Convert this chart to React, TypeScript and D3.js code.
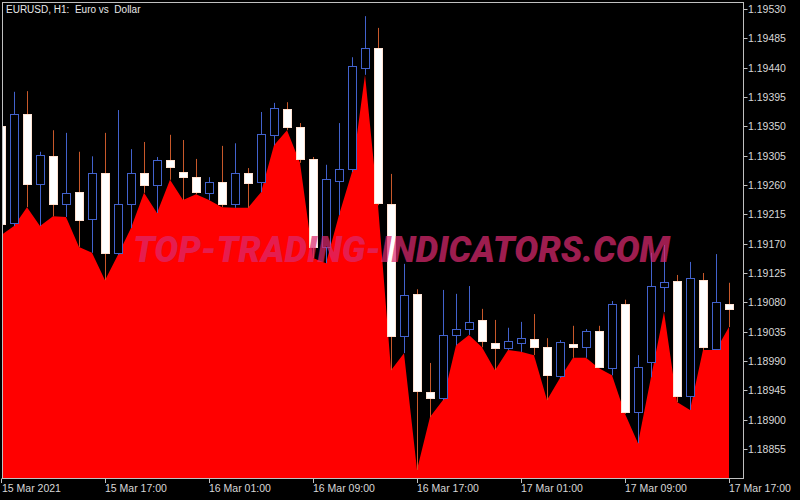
import { useEffect, useRef } from "react";
import * as d3 from "d3";

// EURUSD H1 bars
const opens = [
  1.1935, 1.19202, 1.19369, 1.19261, 1.19304, 1.19231, 1.19249, 1.19208, 1.19278, 1.19156,
  1.19231, 1.19278, 1.1926, 1.19298, 1.1928, 1.19272, 1.19248, 1.19265, 1.19231, 1.19278,
  1.19265, 1.19337, 1.19377, 1.19349, 1.193, 1.19165, 1.19266, 1.19285, 1.19439, 1.1947,
  1.19231, 1.19028, 1.19093, 1.18942, 1.18933, 1.1903, 1.19039, 1.19053, 1.19018, 1.1901,
  1.19018, 1.19024, 1.19011, 1.18967, 1.19016, 1.19011, 1.19036, 1.18979, 1.19077, 1.18912,
  1.18988, 1.19103, 1.19113, 1.18936, 1.19114, 1.19008, 1.19077,
];
const highs = [
  1.19363, 1.19403, 1.19404, 1.19311, 1.19344, 1.1934, 1.19311, 1.19304, 1.1934, 1.19375,
  1.19315, 1.19326, 1.19303, 1.19337, 1.19329, 1.193, 1.19272, 1.1932, 1.19324, 1.19286,
  1.19372, 1.19386, 1.19387, 1.19355, 1.19303, 1.19291, 1.19355, 1.19456, 1.19519, 1.19501,
  1.19277, 1.19139, 1.191, 1.18987, 1.19099, 1.19093, 1.19105, 1.1907, 1.19053, 1.19041,
  1.1905, 1.19062, 1.19025, 1.19022, 1.19044, 1.19039, 1.19044, 1.19082, 1.19084, 1.18999,
  1.19156, 1.19168, 1.19122, 1.19142, 1.19125, 1.19154, 1.1911,
];
const lows = [
  1.19183, 1.19197, 1.19226, 1.19197, 1.19212, 1.19211, 1.19165, 1.19156, 1.19114, 1.19153,
  1.19194, 1.19248, 1.19217, 1.19268, 1.19237, 1.19246, 1.19237, 1.19226, 1.19225, 1.19225,
  1.19249, 1.19321, 1.19344, 1.19294, 1.19148, 1.1914, 1.19214, 1.1928, 1.19429, 1.19229,
  1.18976, 1.19002, 1.18823, 1.18904, 1.1893, 1.19014, 1.1903, 1.19011, 1.18976, 1.19007,
  1.19004, 1.18999, 1.1893, 1.18964, 1.18995, 1.18995, 1.18979, 1.18968, 1.18909, 1.18864,
  1.18965, 1.19065, 1.18927, 1.18915, 1.19007, 1.19007, 1.19042,
];
const closes = [
  1.192, 1.19369, 1.19261, 1.19306, 1.19231, 1.19248, 1.19206, 1.19278, 1.19156, 1.19231,
  1.19278, 1.1926, 1.19298, 1.19288, 1.19272, 1.19249, 1.19265, 1.19231, 1.19278, 1.19263,
  1.19338, 1.19378, 1.19349, 1.193, 1.19165, 1.19269, 1.19285, 1.19443, 1.1947, 1.19232,
  1.19028, 1.19091, 1.18944, 1.18933, 1.1903, 1.19039, 1.1905, 1.19021, 1.1901, 1.19021,
  1.19025, 1.19011, 1.18968, 1.19019, 1.19011, 1.19036, 1.18981, 1.19077, 1.18912, 1.18981,
  1.19105, 1.19111, 1.18936, 1.19117, 1.19011, 1.1908, 1.1907,
];

const timeLabels = [
  "15 Mar 2021", "15 Mar 17:00", "16 Mar 01:00", "16 Mar 09:00",
  "16 Mar 17:00", "17 Mar 01:00", "17 Mar 09:00", "17 Mar 17:00",
];
const timeLabelBars = [0, 8, 16, 24, 32, 40, 48, 56];
const priceTicks = [
  1.18855, 1.189, 1.18945, 1.1899, 1.19035, 1.1908, 1.19125, 1.1917,
  1.19215, 1.1926, 1.19305, 1.1935, 1.19395, 1.1944, 1.19485, 1.1953,
];
const title = "EURUSD, H1:  Euro vs  Dollar";
const watermark = "TOP-TRADING-INDICATORS.COM";

const App = () => {
  const svgRef = useRef<SVGSVGElement>(null);

  useEffect(() => {
    const svg = d3.select(svgRef.current);
    svg.selectAll("*").remove();

    const plot = { left: 2, top: 2, right: 743, bottom: 478 };
    const font = "'Liberation Sans', Arial, sans-serif";
    const bars = d3.range(opens.length);

    const x = d3.scaleLinear().domain([0, bars.length - 1]).range([1, 729]);
    const y = d3.scaleLinear().domain([1.18855, 1.1953]).range([449, 9]);

    svg.append("rect").attr("width", 800).attr("height", 500).attr("fill", "#000");

    svg.append("defs").append("clipPath").attr("id", "plotClip")
      .append("rect")
      .attr("x", plot.left).attr("y", plot.top)
      .attr("width", plot.right - plot.left).attr("height", plot.bottom - plot.top);

    const g = svg.append("g").attr("clip-path", "url(#plotClip)");

    // red area under the lows
    const area = d3.area<number>()
      .x((i) => x(i))
      .y0(plot.bottom)
      .y1((i) => y(lows[i]));
    g.append("path").datum(bars).attr("fill", "#ff0000").attr("d", area);

    // candles
    const bull = "#4262cc";
    const bearWick = "#c8582a";
    bars.forEach((i) => {
      const cx = Math.round(x(i));
      const up = closes[i] >= opens[i];
      g.append("line")
        .attr("x1", cx + 0.5).attr("x2", cx + 0.5)
        .attr("y1", y(highs[i])).attr("y2", y(lows[i]))
        .attr("stroke", up ? bull : bearWick).attr("stroke-width", 1);
      const top = Math.round(y(Math.max(opens[i], closes[i])));
      const bot = Math.round(y(Math.min(opens[i], closes[i])));
      g.append("rect")
        .attr("x", cx - 3.5).attr("y", top + 0.5)
        .attr("width", 8).attr("height", Math.max(bot - top, 1))
        .attr("fill", up ? "#000" : "#fff")
        .attr("stroke", up ? bull : "#ffe2d2").attr("stroke-width", 1);
    });

    // watermark
    svg.append("text")
      .attr("x", 133).attr("y", 262)
      .attr("textLength", 537).attr("lengthAdjust", "spacingAndGlyphs")
      .attr("font-family", "Roboto, 'DejaVu Sans', sans-serif")
      .attr("font-weight", 900).attr("font-style", "italic")
      .attr("font-size", 36)
      .attr("fill", "rgba(219,41,110,0.73)")
      .text(watermark);

    // frame
    svg.append("rect")
      .attr("x", plot.left + 0.5).attr("y", plot.top + 0.5)
      .attr("width", plot.right - plot.left).attr("height", plot.bottom - plot.top)
      .attr("fill", "none").attr("stroke", "#c0c0c0");

    // price axis
    priceTicks.forEach((p) => {
      const py = Math.round(y(p)) + 0.5;
      svg.append("line")
        .attr("x1", plot.right + 0.5).attr("x2", plot.right + 4.5)
        .attr("y1", py).attr("y2", py)
        .attr("stroke", "#c0c0c0");
      svg.append("text")
        .attr("x", 748).attr("y", py + 3.5)
        .attr("font-family", font).attr("font-size", 10.5)
        .attr("fill", "#d8d8d8")
        .text(d3.format(".5f")(p));
    });

    // time axis
    timeLabelBars.forEach((b, k) => {
      const tx = Math.round(x(b)) + 0.5;
      svg.append("line")
        .attr("x1", tx).attr("x2", tx)
        .attr("y1", plot.bottom + 0.5).attr("y2", plot.bottom + 5)
        .attr("stroke", "#c0c0c0");
      svg.append("text")
        .attr("x", Math.max(tx - 0.5, 2)).attr("y", 492)
        .attr("font-family", font).attr("font-size", 10.5)
        .attr("fill", "#d8d8d8")
        .text(timeLabels[k]);
    });

    // title
    svg.append("text")
      .attr("x", 6).attr("y", 13)
      .attr("font-family", font).attr("font-size", 10)
      .attr("fill", "#e8e8e8")
      .style("white-space", "pre")
      .text(title);
  }, []);

  return (
    <svg
      ref={svgRef}
      width={800}
      height={500}
      style={{ position: "absolute", left: 0, top: 0, display: "block" }}
    ></svg>
  );
};

export default App;
